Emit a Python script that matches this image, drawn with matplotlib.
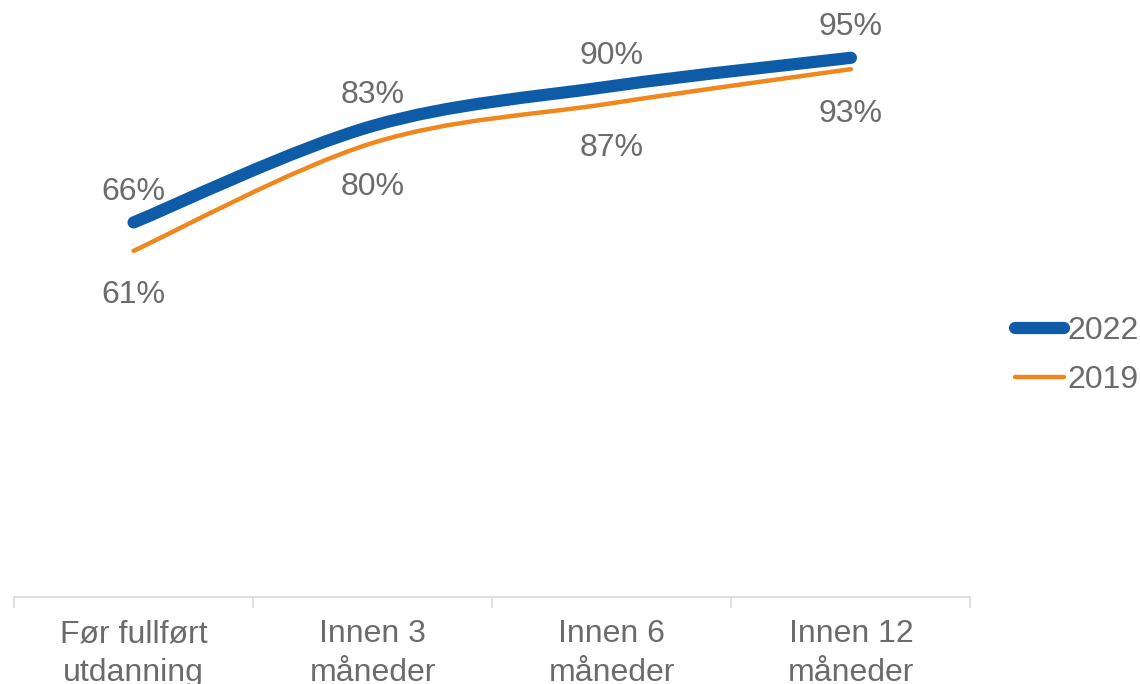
import matplotlib
matplotlib.use("Agg")
import matplotlib.pyplot as plt
from matplotlib.path import Path
from matplotlib.patches import PathPatch
from matplotlib.lines import Line2D
import numpy as np

plt.rcParams['font.family'] = ['Liberation Sans', 'DejaVu Sans']

# Data
categories = ["Før fullført\nutdanning", "Innen 3\nmåneder", "Innen 6\nmåneder", "Innen 12\nmåneder"]
values_2022 = [0.66, 0.83, 0.90, 0.95]
values_2019 = [0.61, 0.80, 0.87, 0.93]

blue = '#0E5BA7'
orange = '#F0861C'
grey = '#6B6B6B'


def smooth_path(xs, ys):
    # Catmull-Rom style bezier, like a smoothed spreadsheet line
    pts = np.column_stack([xs, ys]).astype(float)
    ext = np.vstack([pts[0], pts, pts[-1]])
    verts = [tuple(pts[0])]
    codes = [Path.MOVETO]
    for i in range(1, len(ext) - 2):
        p0, p1, p2, p3 = ext[i - 1], ext[i], ext[i + 1], ext[i + 2]
        c1 = p1 + (p2 - p0) / 6.0
        c2 = p2 - (p3 - p1) / 6.0
        verts += [tuple(c1), tuple(c2), tuple(p2)]
        codes += [Path.CURVE4] * 3
    return Path(verts, codes)


fig = plt.figure(figsize=(11.4, 6.84), dpi=100)
ax = fig.add_axes([0.0123, 0.127, 0.839, 0.83])

x = np.arange(len(categories))
ax.add_patch(PathPatch(smooth_path(x, values_2019), fill=False, edgecolor=orange,
                       lw=3.2, capstyle='round', joinstyle='round'))
ax.add_patch(PathPatch(smooth_path(x, values_2022), fill=False, edgecolor=blue,
                       lw=8.8, capstyle='round', joinstyle='round'))

for xi, v in zip(x, values_2022):
    ax.annotate(f"{v*100:.0f}%", (xi, v), xytext=(0, 22), textcoords='offset points',
                ha='center', va='center', fontsize=23, color=grey)
for xi, v in zip(x, values_2019):
    ax.annotate(f"{v*100:.0f}%", (xi, v), xytext=(0, -32), textcoords='offset points',
                ha='center', va='center', fontsize=23, color=grey)

ax.set_xlim(-0.5, len(categories) - 0.5)
ax.set_ylim(0, 1.0)
ax.set_yticks([])
ax.set_xticks(x)
ax.set_xticklabels(categories, fontsize=23, color=grey, linespacing=1.38)
ax.set_xticks(np.arange(-0.5, len(categories), 1), minor=True)
ax.tick_params(axis='x', which='major', length=0, pad=16)
ax.tick_params(axis='x', which='minor', length=8, width=1.2, color='#D9D9D9')
for s in ['top', 'right', 'left']:
    ax.spines[s].set_visible(False)
ax.spines['bottom'].set_color('#D9D9D9')
ax.spines['bottom'].set_linewidth(1.2)

handles = [Line2D([], [], color=blue, lw=8.8, solid_capstyle='round'),
           Line2D([], [], color=orange, lw=3.2, solid_capstyle='round')]
leg = fig.legend(handles, ['2022', '2019'], loc='center left', bbox_to_anchor=(0.879, 0.48),
                 frameon=False, fontsize=23, handlelength=1.55, handletextpad=0.1,
                 labelspacing=0.6, borderaxespad=0)
for t in leg.get_texts():
    t.set_color(grey)

fig.savefig('out.png', dpi=100)
